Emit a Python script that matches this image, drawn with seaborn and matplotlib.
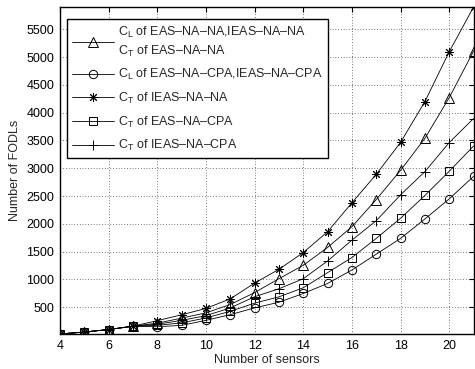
import matplotlib
matplotlib.use("Agg")
import matplotlib.pyplot as plt
import seaborn as sns
import pandas as pd
import numpy as np

sensors = list(range(4, 22))
ct_ieas_na_na = [20, 55, 100, 160, 260, 365, 480, 652, 935, 1183, 1485, 1859, 2379, 2891, 3466, 4200, 5096, 5900]
cl_eas_na_na = [20, 55, 100, 160, 215, 305, 400, 550, 765, 1014, 1255, 1576, 1949, 2438, 2964, 3538, 4270, 5108]
ct_ieas_na_cpa = [20, 55, 100, 160, 195, 265, 350, 489, 690, 833, 1014, 1333, 1708, 2058, 2523, 2940, 3463, 3895]
ct_eas_na_cpa = [20, 55, 100, 160, 175, 220, 308, 428, 575, 688, 851, 1123, 1395, 1739, 2101, 2511, 2946, 3400]
cl_eas_na_cpa = [20, 55, 100, 160, 150, 175, 265, 368, 489, 591, 748, 929, 1171, 1455, 1739, 2089, 2450, 2855]

labels = [
    "C$_\\mathregular{L}$ of EAS\u2013NA\u2013NA,IEAS\u2013NA\u2013NA\nC$_\\mathregular{T}$ of EAS\u2013NA\u2013NA",
    "C$_\\mathregular{L}$ of EAS\u2013NA\u2013CPA,IEAS\u2013NA\u2013CPA",
    "C$_\\mathregular{T}$ of IEAS\u2013NA\u2013NA",
    "C$_\\mathregular{T}$ of EAS\u2013NA\u2013CPA",
    "C$_\\mathregular{T}$ of IEAS\u2013NA\u2013CPA",
]
series = [cl_eas_na_na, cl_eas_na_cpa, ct_ieas_na_na, ct_eas_na_cpa, ct_ieas_na_cpa]
markers = ["^", "o", (8, 2, 0), "s", "+"]
msizes = [6.5, 6, 6.5, 5.5, 7]

sns.set_theme(style="white")
plt.rcParams["font.family"] = ["Liberation Sans", "DejaVu Sans"]
plt.rcParams["mathtext.fontset"] = "custom"
plt.rcParams["mathtext.rm"] = "Liberation Sans"
plt.rcParams["mathtext.it"] = "Liberation Sans"

fig = plt.figure(figsize=(4.75, 3.69), dpi=100)
ax = fig.add_axes([0.1263, 0.0949, 0.8707, 0.8861])

for vals, lab, mk, ms in zip(series, labels, markers, msizes):
    df = pd.DataFrame({"x": sensors, "y": vals})
    sns.lineplot(data=df, x="x", y="y", ax=ax, color="black", linewidth=0.6,
                 marker=mk, markersize=ms, markerfacecolor="none",
                 markeredgecolor="black", markeredgewidth=0.7, label=lab)

allv = np.concatenate([np.array(s) for s in series])
ax.set_xlim(4, 21)
ax.set_ylim(allv.min(), allv.max())
ax.set_xticks(range(4, 21, 2))
ax.set_yticks(range(500, 5501, 500))
ax.grid(True, color="black", linestyle=(0, (1, 3)), linewidth=0.5)
ax.tick_params(direction="in", length=3.5, width=0.8, top=True, right=True,
               labelsize=9, colors="black", pad=4)
for sp in ax.spines.values():
    sp.set_linewidth(1.0)
    sp.set_color("black")
ax.set_xlabel("Number of sensors", fontsize=9, labelpad=2)
ax.set_ylabel("Number of FODLs", fontsize=9, labelpad=4)

leg = ax.legend(loc="upper left", bbox_to_anchor=(0.017, 0.962), borderaxespad=0,
                fontsize=9, frameon=True, fancybox=False, edgecolor="black",
                framealpha=1, handlelength=3.3, handletextpad=0.35,
                labelspacing=0.68, borderpad=0.42)
leg.get_frame().set_linewidth(1.0)
for t in leg.get_texts():
    t.set_linespacing(1.35)

fig.savefig("out.png", dpi=100)
